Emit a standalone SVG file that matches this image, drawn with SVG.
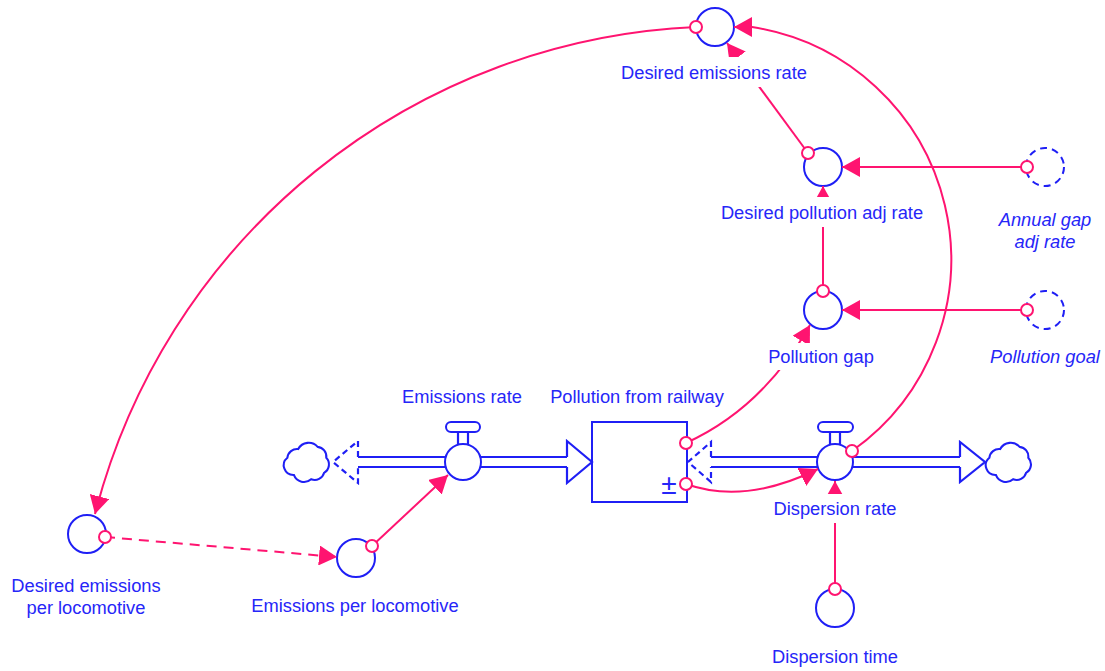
<svg xmlns="http://www.w3.org/2000/svg" width="1105" height="671" viewBox="0 0 1105 671">
  <style>
    .aux { fill: #ffffff; stroke: #1f1ff5; stroke-width: 2; }
    .ghost { fill: none; stroke: #1f1ff5; stroke-width: 2; stroke-dasharray: 7 5; }
    .shape { fill: #ffffff; stroke: #1f1ff5; stroke-width: 2; }
    .pipe { fill: none; stroke: #1f1ff5; stroke-width: 2.2; }
    .pipe-dash { fill: none; stroke: #1f1ff5; stroke-width: 2.2; stroke-dasharray: 6 4; }
    .link { fill: none; stroke: #ff1470; stroke-width: 2; marker-end: url(#arrow); }
    .link-dash { fill: none; stroke: #ff1470; stroke-width: 2; stroke-dasharray: 10 7; marker-end: url(#arrow); }
    .tail { fill: #ffffff; stroke: #ff1470; stroke-width: 2; }
    text { font-family: "Liberation Sans", Arial, sans-serif; font-size: 18.3px; fill: #2626f8; text-anchor: middle; }
    .it { font-style: italic; }
  </style>
  <defs>
    <marker id="arrow" viewBox="0 0 18 20" refX="18" refY="10" markerWidth="18" markerHeight="20" markerUnits="userSpaceOnUse" orient="auto">
      <path d="M0,0 L18,10 L0,20 Z" fill="#ff1470"/>
    </marker>
    <!-- links pass behind variable names: cut them out where names sit -->
    <mask id="label-gaps" maskUnits="userSpaceOnUse" x="0" y="0" width="1105" height="671">
      <rect x="0" y="0" width="1105" height="671" fill="#ffffff"/>
      <rect x="615" y="57" width="198" height="30" fill="#000000"/>
      <rect x="715" y="197" width="214" height="30" fill="#000000"/>
      <rect x="763" y="343" width="117" height="27" fill="#000000"/>
      <rect x="770" y="494" width="130" height="29" fill="#000000"/>
    </mask>
    <path id="cloud" d="M-14,12 a9,9 0 0 1 -6,-16 a9,9 0 0 1 10,-8 a11,11 0 0 1 18,-2 a9,9 0 0 1 8,10 a9,9 0 0 1 -2,14 a9,9 0 0 1 -12,6 a10,10 0 0 1 -16,-4 z"/>
  </defs>

  <!-- auxiliaries -->
  <g id="desired-emissions-rate">
    <circle class="aux" cx="715" cy="27" r="19"/>
    <text x="714" y="79">Desired emissions rate</text>
  </g>
  <g id="desired-pollution-adj-rate">
    <circle class="aux" cx="823" cy="167" r="19"/>
    <text x="822" y="219">Desired pollution adj rate</text>
  </g>
  <g id="annual-gap-adj-rate">
    <circle class="ghost" cx="1045" cy="167" r="19"/>
    <text class="it" x="1045" y="226">Annual gap</text>
    <text class="it" x="1045" y="248">adj rate</text>
  </g>
  <g id="pollution-gap">
    <circle class="aux" cx="823" cy="310" r="19"/>
    <text x="821" y="363">Pollution gap</text>
  </g>
  <g id="pollution-goal">
    <circle class="ghost" cx="1045" cy="310" r="19"/>
    <text class="it" x="1045" y="363">Pollution goal</text>
  </g>
  <g id="desired-emissions-per-locomotive">
    <circle class="aux" cx="87" cy="534" r="19"/>
    <text x="86" y="592">Desired emissions</text>
    <text x="86" y="614">per locomotive</text>
  </g>
  <g id="emissions-per-locomotive">
    <circle class="aux" cx="356" cy="558" r="19"/>
    <text x="355" y="612">Emissions per locomotive</text>
  </g>
  <g id="dispersion-time">
    <circle class="aux" cx="835" cy="608" r="19"/>
    <text x="835" y="663">Dispersion time</text>
  </g>

  <!-- stock -->
  <g id="pollution-from-railway">
    <rect class="shape" x="592" y="422" width="95" height="80"/>
    <text x="669" y="494" style="font-size:28px">±</text>
    <text x="637" y="403">Pollution from railway</text>
  </g>

  <!-- clouds -->
  <g id="source-cloud">
    <use href="#cloud" class="shape" transform="translate(309 462) scale(1.08)" style="stroke-width:1.9"/>
  </g>
  <g id="sink-cloud">
    <use href="#cloud" class="shape" transform="translate(1011 462) scale(1.08)" style="stroke-width:1.9"/>
  </g>

  <!-- flow valves -->
  <g id="emissions-rate">
    <rect class="shape" x="446" y="422" width="34" height="10" rx="5"/>
    <line class="pipe" x1="458" y1="432" x2="458" y2="445"/>
    <line class="pipe" x1="468" y1="432" x2="468" y2="445"/>
    <circle class="shape" cx="463" cy="462" r="18"/>
    <text x="462" y="403">Emissions rate</text>
  </g>
  <g id="dispersion-rate">
    <rect class="shape" x="818" y="422" width="35" height="10" rx="5"/>
    <line class="pipe" x1="830" y1="432" x2="830" y2="445"/>
    <line class="pipe" x1="840" y1="432" x2="840" y2="445"/>
    <circle class="shape" cx="835" cy="462" r="18"/>
    <text x="835" y="515">Dispersion rate</text>
  </g>

  <g id="connectors">
    <!-- flow pipes -->
    <g id="pipes">
      <polyline class="pipe-dash" points="358,457 358,441 333,462 358,483 358,467"/>
      <line class="pipe" x1="358" y1="457" x2="445" y2="457"/>
      <line class="pipe" x1="358" y1="467" x2="445" y2="467"/>
      <line class="pipe" x1="481" y1="457" x2="567" y2="457"/>
      <line class="pipe" x1="481" y1="467" x2="567" y2="467"/>
      <polyline class="pipe" points="567,457 567,441 592,462 567,483 567,467"/>

      <polyline class="pipe-dash" points="711,457 711,442 688,462 711,482 711,467"/>
      <line class="pipe" x1="711" y1="457" x2="817" y2="457"/>
      <line class="pipe" x1="711" y1="467" x2="817" y2="467"/>
      <line class="pipe" x1="853" y1="457" x2="960" y2="457"/>
      <line class="pipe" x1="853" y1="467" x2="960" y2="467"/>
      <polyline class="pipe" points="960,457 960,442 985,462 960,482 960,467"/>
    </g>

    <!-- information links -->
    <g id="links" mask="url(#label-gaps)">
      <path class="link" d="M1027 167 L842 167"/>
      <path class="link" d="M1027 310 L842 310"/>
      <path class="link" d="M823 291 L823 186"/>
      <path class="link" d="M808 153 L727 43"/>
      <path class="link" d="M686 443 Q763 408 810 325"/>
      <path class="link" d="M686 484 Q745 505 818 469"/>
      <path class="link" d="M835 589 L835 481"/>
      <path class="link" d="M852 451 A235 235 0 0 0 752 27 L734 27"/>
      <path class="link" d="M696 27 A650 650 0 0 0 95 514"/>
      <path class="link-dash" d="M105 537 L337 557"/>
      <path class="link" d="M372 546 L448 475"/>
    </g>

    <!-- link origins -->
    <g id="link-tails">
      <circle class="tail" cx="1027" cy="167" r="6"/>
      <circle class="tail" cx="1027" cy="310" r="6"/>
      <circle class="tail" cx="823" cy="291" r="6"/>
      <circle class="tail" cx="808" cy="153" r="6"/>
      <circle class="tail" cx="686" cy="443" r="6"/>
      <circle class="tail" cx="686" cy="484" r="6"/>
      <circle class="tail" cx="835" cy="589" r="6"/>
      <circle class="tail" cx="852" cy="451" r="6"/>
      <circle class="tail" cx="696" cy="27" r="6"/>
      <circle class="tail" cx="105" cy="537" r="6"/>
      <circle class="tail" cx="372" cy="546" r="6"/>
    </g>
  </g>
</svg>
